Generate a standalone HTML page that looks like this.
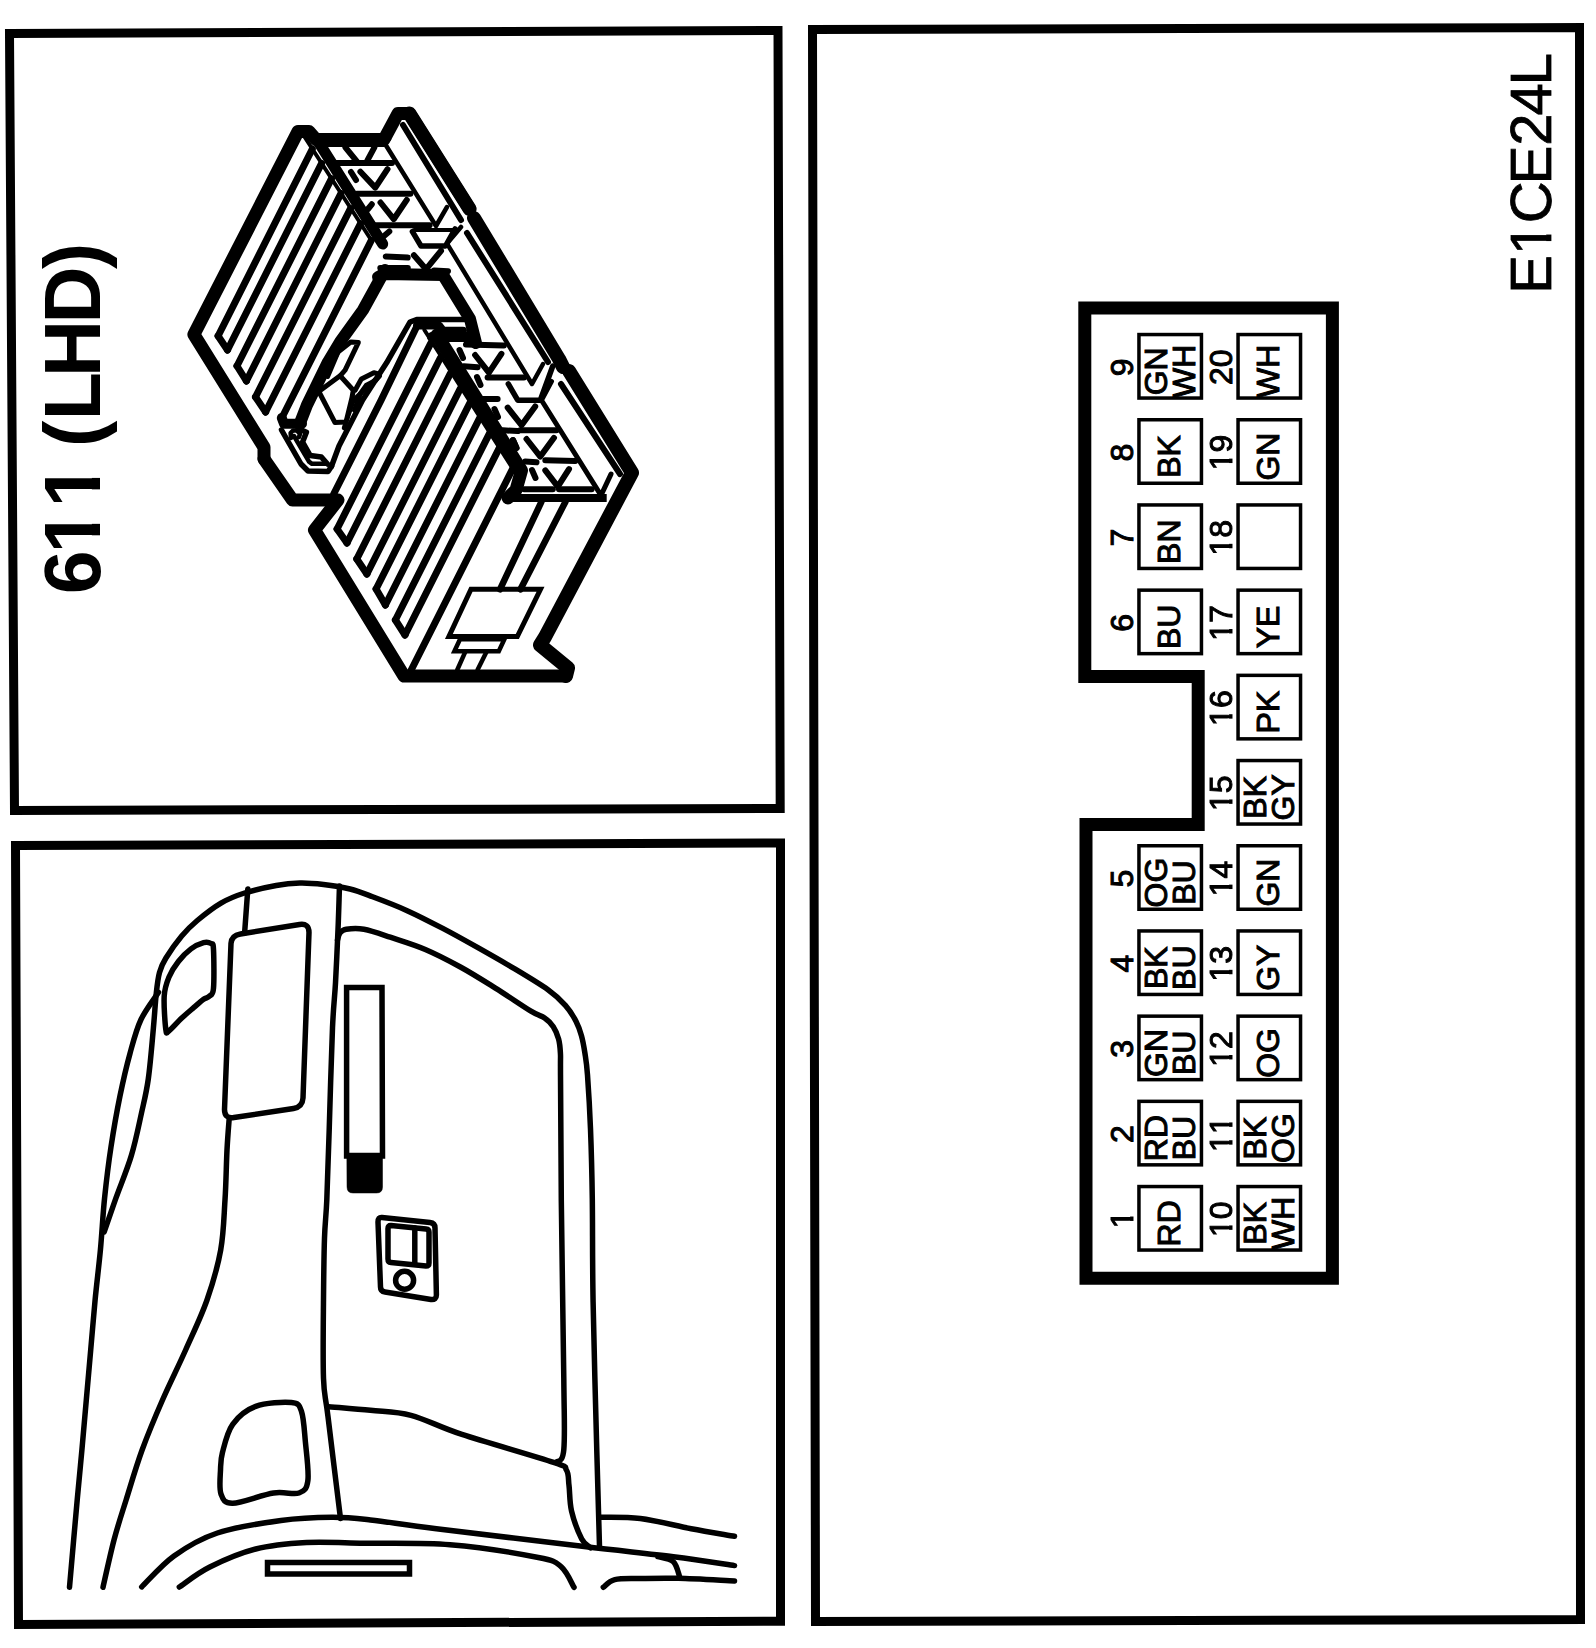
<!DOCTYPE html>
<html><head><meta charset="utf-8"><style>
html,body{margin:0;padding:0;background:#fff;}
body{width:1596px;height:1648px;overflow:hidden;}
svg{display:block;}
text{font-family:"Liberation Sans", sans-serif;fill:#000;}
</style></head><body>
<svg width="1596" height="1648" viewBox="0 0 1596 1648">
<rect width="1596" height="1648" fill="#fff"/>
<polygon points="9.5,33.5 778.0,30.5 780.2,808.5 14.5,810.5" fill="none" stroke="#000" stroke-width="9" stroke-linejoin="miter"/>
<polygon points="15.5,845.5 780.5,843.0 780.5,1621.2 18.5,1624.5" fill="none" stroke="#000" stroke-width="9" stroke-linejoin="miter"/>
<polygon points="812.5,29.5 1579.5,27.5 1580.5,1619.5 815.5,1621.5" fill="none" stroke="#000" stroke-width="9" stroke-linejoin="miter"/>
<path d="M1084.8,308 L1332.4,308 L1332.4,1278.2 L1086,1278.2 L1086,824.6 L1198.2,824.6 L1198.2,676.6 L1084.8,676.6 Z" fill="none" stroke="#000" stroke-width="13" stroke-linejoin="miter"/>
<rect x="1138.95" y="1186.55" width="62.50" height="63.50" fill="none" stroke="#000" stroke-width="3.5"/>
<mask id="m1" maskUnits="userSpaceOnUse" x="-2000" y="-2000" width="4000" height="4000"><rect x="-2000" y="-2000" width="4000" height="4000" fill="#fff"/><rect x="-8.46" y="-4.39" width="6.81" height="8.39" fill="#000"/><rect x="2.78" y="-4.39" width="6.56" height="8.39" fill="#000"/></mask>
<g transform="translate(1133.00,1219.30) rotate(-90)"><text x="-8.90" y="0" font-size="32" font-weight="normal" stroke="#000" stroke-width="1" mask="url(#m1)" >1</text></g>
<g transform="translate(1179.70,1223.30) rotate(-90)"><text x="-23.11 0.00" y="0" font-size="32" font-weight="normal" stroke="#000" stroke-width="1" >RD</text></g>
<rect x="1138.95" y="1101.35" width="62.50" height="63.50" fill="none" stroke="#000" stroke-width="3.5"/>
<g transform="translate(1133.00,1134.10) rotate(-90)"><text x="-8.90" y="0" font-size="32" font-weight="normal" stroke="#000" stroke-width="1" >2</text></g>
<g transform="translate(1167.20,1138.10) rotate(-90)"><text x="-23.11 0.00" y="0" font-size="32" font-weight="normal" stroke="#000" stroke-width="1" >RD</text></g>
<g transform="translate(1194.50,1138.10) rotate(-90)"><text x="-22.23 -0.88" y="0" font-size="32" font-weight="normal" stroke="#000" stroke-width="1" >BU</text></g>
<rect x="1138.95" y="1016.15" width="62.50" height="63.50" fill="none" stroke="#000" stroke-width="3.5"/>
<g transform="translate(1133.00,1048.90) rotate(-90)"><text x="-8.90" y="0" font-size="32" font-weight="normal" stroke="#000" stroke-width="1" >3</text></g>
<g transform="translate(1167.20,1052.90) rotate(-90)"><text x="-24.00 0.89" y="0" font-size="32" font-weight="normal" stroke="#000" stroke-width="1" >GN</text></g>
<g transform="translate(1194.50,1052.90) rotate(-90)"><text x="-22.23 -0.88" y="0" font-size="32" font-weight="normal" stroke="#000" stroke-width="1" >BU</text></g>
<rect x="1138.95" y="930.95" width="62.50" height="63.50" fill="none" stroke="#000" stroke-width="3.5"/>
<g transform="translate(1133.00,963.70) rotate(-90)"><text x="-8.90" y="0" font-size="32" font-weight="normal" stroke="#000" stroke-width="1" >4</text></g>
<g transform="translate(1167.20,967.70) rotate(-90)"><text x="-21.34 0.00" y="0" font-size="32" font-weight="normal" stroke="#000" stroke-width="1" >BK</text></g>
<g transform="translate(1194.50,967.70) rotate(-90)"><text x="-22.23 -0.88" y="0" font-size="32" font-weight="normal" stroke="#000" stroke-width="1" >BU</text></g>
<rect x="1138.95" y="845.75" width="62.50" height="63.50" fill="none" stroke="#000" stroke-width="3.5"/>
<g transform="translate(1133.00,878.50) rotate(-90)"><text x="-8.90" y="0" font-size="32" font-weight="normal" stroke="#000" stroke-width="1" >5</text></g>
<g transform="translate(1167.20,882.50) rotate(-90)"><text x="-24.89 0.00" y="0" font-size="32" font-weight="normal" stroke="#000" stroke-width="1" >OG</text></g>
<g transform="translate(1194.50,882.50) rotate(-90)"><text x="-22.23 -0.88" y="0" font-size="32" font-weight="normal" stroke="#000" stroke-width="1" >BU</text></g>
<rect x="1138.95" y="590.15" width="62.50" height="63.50" fill="none" stroke="#000" stroke-width="3.5"/>
<g transform="translate(1133.00,622.90) rotate(-90)"><text x="-8.90" y="0" font-size="32" font-weight="normal" stroke="#000" stroke-width="1" >6</text></g>
<g transform="translate(1179.70,626.90) rotate(-90)"><text x="-22.23 -0.88" y="0" font-size="32" font-weight="normal" stroke="#000" stroke-width="1" >BU</text></g>
<rect x="1138.95" y="504.95" width="62.50" height="63.50" fill="none" stroke="#000" stroke-width="3.5"/>
<g transform="translate(1133.00,537.70) rotate(-90)"><text x="-8.90" y="0" font-size="32" font-weight="normal" stroke="#000" stroke-width="1" >7</text></g>
<g transform="translate(1179.70,541.70) rotate(-90)"><text x="-22.23 -0.88" y="0" font-size="32" font-weight="normal" stroke="#000" stroke-width="1" >BN</text></g>
<rect x="1138.95" y="419.75" width="62.50" height="63.50" fill="none" stroke="#000" stroke-width="3.5"/>
<g transform="translate(1133.00,452.50) rotate(-90)"><text x="-8.90" y="0" font-size="32" font-weight="normal" stroke="#000" stroke-width="1" >8</text></g>
<g transform="translate(1179.70,456.50) rotate(-90)"><text x="-21.34 0.00" y="0" font-size="32" font-weight="normal" stroke="#000" stroke-width="1" >BK</text></g>
<rect x="1138.95" y="334.55" width="62.50" height="63.50" fill="none" stroke="#000" stroke-width="3.5"/>
<g transform="translate(1133.00,367.30) rotate(-90)"><text x="-8.90" y="0" font-size="32" font-weight="normal" stroke="#000" stroke-width="1" >9</text></g>
<g transform="translate(1167.20,371.30) rotate(-90)"><text x="-24.00 0.89" y="0" font-size="32" font-weight="normal" stroke="#000" stroke-width="1" >GN</text></g>
<g transform="translate(1194.50,371.30) rotate(-90)"><text x="-26.66 3.55" y="0" font-size="32" font-weight="normal" stroke="#000" stroke-width="1" >WH</text></g>
<rect x="1238.05" y="1186.55" width="62.50" height="63.50" fill="none" stroke="#000" stroke-width="3.5"/>
<mask id="m2" maskUnits="userSpaceOnUse" x="-2000" y="-2000" width="4000" height="4000"><rect x="-2000" y="-2000" width="4000" height="4000" fill="#fff"/><rect x="-17.36" y="-4.39" width="6.81" height="8.39" fill="#000"/><rect x="-6.12" y="-4.39" width="6.56" height="8.39" fill="#000"/></mask>
<g transform="translate(1232.00,1219.30) rotate(-90)"><text x="-17.80 0.00" y="0" font-size="32" font-weight="normal" stroke="#000" stroke-width="1" mask="url(#m2)" >10</text></g>
<g transform="translate(1266.30,1223.30) rotate(-90)"><text x="-21.34 0.00" y="0" font-size="32" font-weight="normal" stroke="#000" stroke-width="1" >BK</text></g>
<g transform="translate(1293.60,1223.30) rotate(-90)"><text x="-26.66 3.55" y="0" font-size="32" font-weight="normal" stroke="#000" stroke-width="1" >WH</text></g>
<rect x="1238.05" y="1101.35" width="62.50" height="63.50" fill="none" stroke="#000" stroke-width="3.5"/>
<mask id="m3" maskUnits="userSpaceOnUse" x="-2000" y="-2000" width="4000" height="4000"><rect x="-2000" y="-2000" width="4000" height="4000" fill="#fff"/><rect x="-17.36" y="-4.39" width="6.81" height="8.39" fill="#000"/><rect x="-6.12" y="-4.39" width="6.56" height="8.39" fill="#000"/><rect x="0.44" y="-4.39" width="6.81" height="8.39" fill="#000"/><rect x="11.68" y="-4.39" width="6.56" height="8.39" fill="#000"/></mask>
<g transform="translate(1232.00,1134.10) rotate(-90)"><text x="-17.80 0.00" y="0" font-size="32" font-weight="normal" stroke="#000" stroke-width="1" mask="url(#m3)" >11</text></g>
<g transform="translate(1266.30,1138.10) rotate(-90)"><text x="-21.34 0.00" y="0" font-size="32" font-weight="normal" stroke="#000" stroke-width="1" >BK</text></g>
<g transform="translate(1293.60,1138.10) rotate(-90)"><text x="-24.89 0.00" y="0" font-size="32" font-weight="normal" stroke="#000" stroke-width="1" >OG</text></g>
<rect x="1238.05" y="1016.15" width="62.50" height="63.50" fill="none" stroke="#000" stroke-width="3.5"/>
<mask id="m4" maskUnits="userSpaceOnUse" x="-2000" y="-2000" width="4000" height="4000"><rect x="-2000" y="-2000" width="4000" height="4000" fill="#fff"/><rect x="-17.36" y="-4.39" width="6.81" height="8.39" fill="#000"/><rect x="-6.12" y="-4.39" width="6.56" height="8.39" fill="#000"/></mask>
<g transform="translate(1232.00,1048.90) rotate(-90)"><text x="-17.80 0.00" y="0" font-size="32" font-weight="normal" stroke="#000" stroke-width="1" mask="url(#m4)" >12</text></g>
<g transform="translate(1278.80,1052.90) rotate(-90)"><text x="-24.89 0.00" y="0" font-size="32" font-weight="normal" stroke="#000" stroke-width="1" >OG</text></g>
<rect x="1238.05" y="930.95" width="62.50" height="63.50" fill="none" stroke="#000" stroke-width="3.5"/>
<mask id="m5" maskUnits="userSpaceOnUse" x="-2000" y="-2000" width="4000" height="4000"><rect x="-2000" y="-2000" width="4000" height="4000" fill="#fff"/><rect x="-17.36" y="-4.39" width="6.81" height="8.39" fill="#000"/><rect x="-6.12" y="-4.39" width="6.56" height="8.39" fill="#000"/></mask>
<g transform="translate(1232.00,963.70) rotate(-90)"><text x="-17.80 0.00" y="0" font-size="32" font-weight="normal" stroke="#000" stroke-width="1" mask="url(#m5)" >13</text></g>
<g transform="translate(1278.80,967.70) rotate(-90)"><text x="-23.12 1.77" y="0" font-size="32" font-weight="normal" stroke="#000" stroke-width="1" >GY</text></g>
<rect x="1238.05" y="845.75" width="62.50" height="63.50" fill="none" stroke="#000" stroke-width="3.5"/>
<mask id="m6" maskUnits="userSpaceOnUse" x="-2000" y="-2000" width="4000" height="4000"><rect x="-2000" y="-2000" width="4000" height="4000" fill="#fff"/><rect x="-17.36" y="-4.39" width="6.81" height="8.39" fill="#000"/><rect x="-6.12" y="-4.39" width="6.56" height="8.39" fill="#000"/></mask>
<g transform="translate(1232.00,878.50) rotate(-90)"><text x="-17.80 0.00" y="0" font-size="32" font-weight="normal" stroke="#000" stroke-width="1" mask="url(#m6)" >14</text></g>
<g transform="translate(1278.80,882.50) rotate(-90)"><text x="-24.00 0.89" y="0" font-size="32" font-weight="normal" stroke="#000" stroke-width="1" >GN</text></g>
<rect x="1238.05" y="760.55" width="62.50" height="63.50" fill="none" stroke="#000" stroke-width="3.5"/>
<mask id="m7" maskUnits="userSpaceOnUse" x="-2000" y="-2000" width="4000" height="4000"><rect x="-2000" y="-2000" width="4000" height="4000" fill="#fff"/><rect x="-17.36" y="-4.39" width="6.81" height="8.39" fill="#000"/><rect x="-6.12" y="-4.39" width="6.56" height="8.39" fill="#000"/></mask>
<g transform="translate(1232.00,793.30) rotate(-90)"><text x="-17.80 0.00" y="0" font-size="32" font-weight="normal" stroke="#000" stroke-width="1" mask="url(#m7)" >15</text></g>
<g transform="translate(1266.30,797.30) rotate(-90)"><text x="-21.34 0.00" y="0" font-size="32" font-weight="normal" stroke="#000" stroke-width="1" >BK</text></g>
<g transform="translate(1293.60,797.30) rotate(-90)"><text x="-23.12 1.77" y="0" font-size="32" font-weight="normal" stroke="#000" stroke-width="1" >GY</text></g>
<rect x="1238.05" y="675.35" width="62.50" height="63.50" fill="none" stroke="#000" stroke-width="3.5"/>
<mask id="m8" maskUnits="userSpaceOnUse" x="-2000" y="-2000" width="4000" height="4000"><rect x="-2000" y="-2000" width="4000" height="4000" fill="#fff"/><rect x="-17.36" y="-4.39" width="6.81" height="8.39" fill="#000"/><rect x="-6.12" y="-4.39" width="6.56" height="8.39" fill="#000"/></mask>
<g transform="translate(1232.00,708.10) rotate(-90)"><text x="-17.80 0.00" y="0" font-size="32" font-weight="normal" stroke="#000" stroke-width="1" mask="url(#m8)" >16</text></g>
<g transform="translate(1278.80,712.10) rotate(-90)"><text x="-21.34 0.00" y="0" font-size="32" font-weight="normal" stroke="#000" stroke-width="1" >PK</text></g>
<rect x="1238.05" y="590.15" width="62.50" height="63.50" fill="none" stroke="#000" stroke-width="3.5"/>
<mask id="m9" maskUnits="userSpaceOnUse" x="-2000" y="-2000" width="4000" height="4000"><rect x="-2000" y="-2000" width="4000" height="4000" fill="#fff"/><rect x="-17.36" y="-4.39" width="6.81" height="8.39" fill="#000"/><rect x="-6.12" y="-4.39" width="6.56" height="8.39" fill="#000"/></mask>
<g transform="translate(1232.00,622.90) rotate(-90)"><text x="-17.80 0.00" y="0" font-size="32" font-weight="normal" stroke="#000" stroke-width="1" mask="url(#m9)" >17</text></g>
<g transform="translate(1278.80,626.90) rotate(-90)"><text x="-21.34 0.00" y="0" font-size="32" font-weight="normal" stroke="#000" stroke-width="1" >YE</text></g>
<rect x="1238.05" y="504.95" width="62.50" height="63.50" fill="none" stroke="#000" stroke-width="3.5"/>
<mask id="m10" maskUnits="userSpaceOnUse" x="-2000" y="-2000" width="4000" height="4000"><rect x="-2000" y="-2000" width="4000" height="4000" fill="#fff"/><rect x="-17.36" y="-4.39" width="6.81" height="8.39" fill="#000"/><rect x="-6.12" y="-4.39" width="6.56" height="8.39" fill="#000"/></mask>
<g transform="translate(1232.00,537.70) rotate(-90)"><text x="-17.80 0.00" y="0" font-size="32" font-weight="normal" stroke="#000" stroke-width="1" mask="url(#m10)" >18</text></g>
<rect x="1238.05" y="419.75" width="62.50" height="63.50" fill="none" stroke="#000" stroke-width="3.5"/>
<mask id="m11" maskUnits="userSpaceOnUse" x="-2000" y="-2000" width="4000" height="4000"><rect x="-2000" y="-2000" width="4000" height="4000" fill="#fff"/><rect x="-17.36" y="-4.39" width="6.81" height="8.39" fill="#000"/><rect x="-6.12" y="-4.39" width="6.56" height="8.39" fill="#000"/></mask>
<g transform="translate(1232.00,452.50) rotate(-90)"><text x="-17.80 0.00" y="0" font-size="32" font-weight="normal" stroke="#000" stroke-width="1" mask="url(#m11)" >19</text></g>
<g transform="translate(1278.80,456.50) rotate(-90)"><text x="-24.00 0.89" y="0" font-size="32" font-weight="normal" stroke="#000" stroke-width="1" >GN</text></g>
<rect x="1238.05" y="334.55" width="62.50" height="63.50" fill="none" stroke="#000" stroke-width="3.5"/>
<g transform="translate(1232.00,367.30) rotate(-90)"><text x="-17.80 0.00" y="0" font-size="32" font-weight="normal" stroke="#000" stroke-width="1" >20</text></g>
<g transform="translate(1278.80,371.30) rotate(-90)"><text x="-26.66 3.55" y="0" font-size="32" font-weight="normal" stroke="#000" stroke-width="1" >WH</text></g>
<mask id="m12" maskUnits="userSpaceOnUse" x="-2000" y="-2000" width="4000" height="4000"><rect x="-2000" y="-2000" width="4000" height="4000" fill="#fff"/><rect x="-81.44" y="-6.23" width="11.37" height="10.13" fill="#000"/><rect x="-63.55" y="-6.23" width="10.91" height="10.13" fill="#000"/></mask>
<g transform="translate(1551.00,171.00) rotate(-90)"><text x="-122.64 -83.96 -52.20 -13.31 25.37 55.63 85.89" y="0" font-size="58" font-weight="normal" stroke="#000" stroke-width="0.8" mask="url(#m12)" >E1CE24L</text></g>
<mask id="m13" maskUnits="userSpaceOnUse" x="-2000" y="-2000" width="4000" height="4000"><rect x="-2000" y="-2000" width="4000" height="4000" fill="#fff"/><rect x="-128.95" y="-9.56" width="14.66" height="13.06" fill="#000"/><rect x="-102.85" y="-9.56" width="13.66" height="13.06" fill="#000"/><rect x="-83.02" y="-9.56" width="14.66" height="13.06" fill="#000"/><rect x="-56.92" y="-9.56" width="13.66" height="13.06" fill="#000"/></mask>
<g transform="translate(100.40,421.00) rotate(-90)"><text x="-173.37 -132.43 -86.49 -52.56 -26.11 0.70 43.96 97.51 152.06" y="0" font-size="79" font-weight="bold" mask="url(#m13)" >611 (LHD)</text></g>
<path d="M104.2,1231.8 C106.2,1226.2 111.5,1210.6 116.0,1197.9 C120.5,1185.2 127.2,1169.6 131.4,1155.4 C135.7,1141.2 138.7,1125.7 141.5,1113.0 C144.3,1100.3 146.3,1093.2 148.3,1079.0 C150.3,1064.8 152.1,1042.3 153.4,1028.0 C154.7,1013.7 155.3,1002.2 156.3,993.0 C157.3,983.8 157.9,978.3 159.5,972.5 C161.1,966.7 162.1,964.3 165.8,958.3 C169.5,952.2 176.2,942.5 181.5,936.2 C186.8,929.9 190.7,926.0 197.3,920.5 C203.9,915.0 213.1,907.7 221.0,903.1 C228.9,898.5 235.4,895.9 244.6,893.0 C253.8,890.1 267.0,887.2 276.2,885.5 C285.4,883.8 291.9,883.2 299.8,883.0 C307.7,882.8 315.1,883.5 323.5,884.5 C331.9,885.5 341.8,887.0 350.0,889.0 C358.2,891.0 363.0,893.1 372.6,896.8 C382.2,900.4 396.0,905.6 407.7,910.9 C419.4,916.2 431.1,922.3 442.8,928.4 C454.5,934.5 466.2,941.1 477.9,947.7 C489.6,954.3 501.3,960.9 513.0,967.9 C524.7,974.9 539.2,983.5 548.0,989.8 C556.8,996.1 560.9,1000.3 565.6,1005.6 C570.3,1010.9 573.5,1016.4 576.1,1021.4 C578.7,1026.4 579.9,1030.1 581.4,1035.4 C582.9,1040.7 583.9,1046.4 584.9,1053.0 C585.9,1059.6 586.6,1062.4 587.5,1075.0 C588.4,1087.6 589.7,1108.1 590.5,1128.8 C591.3,1149.5 591.9,1170.1 592.3,1199.0 C592.7,1227.9 592.3,1259.4 593.1,1302.0 C593.9,1344.6 595.8,1414.0 596.9,1454.8 C598.0,1495.5 599.1,1531.2 599.5,1546.5" fill="none" stroke="#000" stroke-width="5.5" stroke-linejoin="round" stroke-linecap="round"/>
<path d="M158.5,992.3 C155.6,996.8 145.8,1009.3 141.0,1019.5 C136.2,1029.7 133.5,1040.7 130.0,1053.4 C126.5,1066.1 123.2,1080.3 120.0,1095.9 C116.8,1111.5 113.6,1129.9 111.0,1146.9 C108.4,1163.9 106.4,1180.7 104.6,1197.9 C102.8,1215.1 102.0,1233.0 100.4,1250.0 C98.8,1267.0 96.7,1283.3 95.1,1300.0 C93.5,1316.7 92.2,1333.3 90.7,1350.0 C89.2,1366.7 87.8,1383.3 86.3,1400.0 C84.8,1416.7 83.4,1433.3 81.9,1450.0 C80.4,1466.7 79.3,1477.1 77.2,1500.0 C75.1,1522.9 70.8,1572.8 69.5,1587.3" fill="none" stroke="#000" stroke-width="5.5" stroke-linejoin="round" stroke-linecap="round"/>
<path d="M247.8,889.0 C247.3,896.4 245.1,925.8 244.6,933.1" fill="none" stroke="#000" stroke-width="5.5" stroke-linejoin="round" stroke-linecap="round"/>
<path d="M229.2,1118.5 C228.8,1123.8 227.7,1136.4 227.0,1150.0 C226.3,1163.6 226.1,1183.3 225.0,1200.0 C223.9,1216.7 223.7,1233.3 220.7,1250.0 C217.7,1266.7 212.8,1283.3 207.0,1300.0 C201.2,1316.7 193.0,1333.3 185.6,1350.0 C178.2,1366.7 169.8,1383.3 162.5,1400.0 C155.2,1416.7 148.2,1433.3 142.1,1450.0 C136.0,1466.7 130.8,1485.0 126.1,1500.0 C121.4,1515.0 117.8,1525.5 114.0,1540.0 C110.2,1554.5 104.8,1579.4 103.0,1587.3" fill="none" stroke="#000" stroke-width="5.5" stroke-linejoin="round" stroke-linecap="round"/>
<path d="M339.5,886.0 C339.2,893.3 338.7,913.8 338.0,929.9 C337.3,946.0 336.4,966.5 335.5,982.8 C334.6,999.1 333.6,1003.2 332.5,1027.7 C331.4,1052.2 330.1,1101.3 329.2,1130.0 C328.2,1158.7 327.6,1182.0 326.8,1200.0 C326.0,1218.0 325.1,1221.3 324.5,1238.0 C323.9,1254.7 323.7,1276.6 323.5,1300.0 C323.3,1323.4 322.8,1359.0 323.5,1378.4 C324.2,1397.8 325.2,1393.2 328.0,1416.6 C330.8,1440.0 338.4,1501.6 340.5,1518.6" fill="none" stroke="#000" stroke-width="5.5" stroke-linejoin="round" stroke-linecap="round"/>
<path d="M240.5,934 L299.5,924.5 Q309,923 309,932.5 L303,1098 Q302.5,1107 293.5,1108.5 L234,1117.5 Q224.5,1119 224.5,1109.5 L231,943.5 Q231.5,935.5 240.5,934 Z" fill="none" stroke="#000" stroke-width="5.5" stroke-linejoin="round" stroke-linecap="round"/>
<path d="M165.8,1029.3 C165.0,1023.5 163.7,1004.9 164.2,996.2 C164.7,987.5 166.5,983.1 168.9,977.3 C171.3,971.5 174.7,966.2 178.4,961.5 C182.1,956.8 186.8,952.0 191.0,948.9 C195.2,945.8 200.3,943.5 203.6,942.6 C206.9,941.7 209.3,942.4 211.0,943.5 C212.7,944.6 213.1,942.0 213.5,949.5 C213.9,957.0 214.2,980.5 213.5,988.3 C212.8,996.1 211.1,994.4 209.4,996.2 C207.8,998.0 206.1,997.5 203.6,999.3 C201.1,1001.1 197.9,1004.0 194.2,1007.2 C190.5,1010.4 185.7,1014.3 181.5,1018.3 C177.3,1022.2 171.5,1029.1 168.9,1030.9 C166.3,1032.7 166.6,1035.1 165.8,1029.3Z" fill="none" stroke="#000" stroke-width="5.5" stroke-linejoin="round" stroke-linecap="round"/>
<path d="M337.5,940.0 C337.9,938.8 338.5,934.8 340.0,933.0 C341.5,931.2 342.3,929.9 346.3,929.3 C350.3,928.7 356.6,928.0 363.9,929.3 C371.2,930.6 380.0,933.8 390.2,937.2 C400.4,940.6 413.6,944.5 425.3,949.5 C437.0,954.5 448.7,960.6 460.4,967.0 C472.1,973.4 483.7,980.8 495.4,988.1 C507.1,995.4 522.3,1005.9 530.5,1010.9 C538.7,1015.9 540.8,1015.3 544.6,1017.9 C548.4,1020.5 551.0,1023.2 553.3,1026.7 C555.6,1030.2 557.4,1034.6 558.6,1039.0 C559.8,1043.4 560.1,1047.0 560.4,1053.0 C560.7,1059.0 560.4,1050.5 560.5,1075.0 C560.6,1099.5 560.8,1149.5 561.3,1200.0 C561.8,1250.5 563.4,1336.7 563.8,1378.3 C564.2,1419.9 565.1,1435.7 563.8,1449.7 C562.5,1463.7 557.5,1460.3 556.2,1462.4" fill="none" stroke="#000" stroke-width="5.5" stroke-linejoin="round" stroke-linecap="round"/>
<path d="M327.0,1406.4 C334.2,1407.1 356.4,1408.8 370.4,1410.3 C384.4,1411.8 395.8,1411.3 411.0,1415.3 C426.2,1419.3 438.1,1426.6 461.9,1434.4 C485.7,1442.2 536.2,1456.5 553.6,1462.4 C571.0,1468.3 563.8,1466.2 566.4,1470.0 C569.0,1473.8 568.1,1478.6 569.0,1485.4 C569.9,1492.2 569.4,1501.9 571.5,1510.8 C573.6,1519.7 578.5,1532.7 581.7,1538.9 C584.9,1545.1 589.1,1546.3 590.6,1547.8" fill="none" stroke="#000" stroke-width="5.5" stroke-linejoin="round" stroke-linecap="round"/>
<path d="M346.6,987.4 L382,987.4 L382.5,1156 L346.6,1156 Z" fill="none" stroke="#000" stroke-width="5.5" stroke-linejoin="miter" stroke-linecap="round"/>
<path d="M347,1153 L382.5,1153 L382.5,1187 Q382.5,1193 376.5,1193 L353,1193 Q347,1193 347,1187 Z" fill="#000" stroke="#000" stroke-width="0.5" stroke-linejoin="round" stroke-linecap="round"/>
<path d="M382,1217.5 L430,1222.5 Q435,1223 435,1228 L436.4,1295 Q436.4,1300 431,1299.5 L385,1292 Q380.5,1291.5 380.5,1287 L378,1222 Q378,1217 382,1217.5 Z" fill="none" stroke="#000" stroke-width="5.5" stroke-linejoin="round" stroke-linecap="round"/>
<path d="M391,1225.5 L426,1229 Q429,1229.3 429,1232 L429,1263 Q429,1266 426,1266 L391,1262.5 Q388,1262.2 388,1259 L388,1228.5 Q388,1225.3 391,1225.5 Z" fill="none" stroke="#000" stroke-width="5.5" stroke-linejoin="round" stroke-linecap="round"/>
<line x1="414.8" y1="1228.0" x2="414.8" y2="1264.0" stroke="#000" stroke-width="5.5" stroke-linecap="round"/>
<circle cx="404.6" cy="1280.3" r="9" fill="none" stroke="#000" stroke-width="5.5"/>
<path d="M220.5,1470.0 C220.8,1463.0 220.5,1459.9 222.5,1452.3 C224.5,1444.7 227.2,1431.9 232.7,1424.3 C238.2,1416.7 245.9,1410.0 255.7,1406.4 C265.5,1402.8 283.8,1401.8 291.4,1402.6 C299.0,1403.4 299.2,1404.9 301.5,1411.5 C303.8,1418.1 304.3,1430.6 305.4,1442.1 C306.5,1453.6 309.0,1471.9 307.9,1480.4 C306.8,1488.9 304.7,1490.9 299.0,1493.0 C293.3,1495.1 284.6,1491.3 273.5,1493.0 C262.4,1494.7 241.4,1503.1 232.7,1503.3 C223.9,1503.5 223.0,1499.5 221.0,1494.0 C219.0,1488.5 220.2,1477.0 220.5,1470.0Z" fill="none" stroke="#000" stroke-width="5.5" stroke-linejoin="round" stroke-linecap="round"/>
<path d="M141.7,1586.9 C147.1,1581.8 161.4,1565.0 174.0,1556.0 C186.6,1547.0 199.6,1538.9 217.4,1533.0 C235.2,1527.1 261.9,1523.1 281.0,1520.5 C300.1,1517.9 317.1,1517.4 332.0,1517.3 C346.9,1517.2 353.0,1518.0 370.4,1519.9 C387.8,1521.8 400.8,1524.3 436.4,1528.7 C472.0,1533.1 544.7,1541.8 584.2,1546.5 C623.7,1551.2 648.4,1553.5 673.4,1556.7 C698.4,1559.9 724.3,1564.1 734.5,1565.6" fill="none" stroke="#000" stroke-width="5.5" stroke-linejoin="round" stroke-linecap="round"/>
<path d="M599.5,1517.2 C606.3,1517.4 625.0,1516.6 640.3,1518.5 C655.6,1520.4 675.5,1525.7 691.2,1528.7 C706.9,1531.7 727.3,1535.0 734.5,1536.3" fill="none" stroke="#000" stroke-width="5.5" stroke-linejoin="round" stroke-linecap="round"/>
<path d="M179.3,1587.0 C184.4,1583.7 197.1,1573.3 209.8,1567.0 C222.5,1560.7 239.6,1553.1 255.7,1549.0 C271.8,1544.9 289.2,1543.5 306.6,1542.5 C324.0,1541.5 336.1,1542.8 360.0,1543.2 C383.9,1543.6 420.3,1542.3 450.0,1544.7 C479.7,1547.1 519.8,1553.8 538.3,1557.5 C556.8,1561.2 555.3,1561.9 561.3,1566.9 C567.2,1571.9 571.9,1583.9 574.0,1587.3" fill="none" stroke="#000" stroke-width="5.5" stroke-linejoin="round" stroke-linecap="round"/>
<path d="M603.3,1587.3 C605.2,1586.0 608.7,1581.1 614.8,1579.6 C620.9,1578.1 629.4,1578.7 640.0,1578.5 C650.6,1578.3 662.8,1577.9 678.5,1578.3 C694.2,1578.7 725.2,1580.5 734.5,1580.9" fill="none" stroke="#000" stroke-width="5.5" stroke-linejoin="round" stroke-linecap="round"/>
<path d="M658.0,1556.7 C660.6,1557.5 669.8,1558.4 673.4,1561.8 C677.0,1565.2 678.7,1574.5 679.7,1577.0" fill="none" stroke="#000" stroke-width="5.5" stroke-linejoin="round" stroke-linecap="round"/>
<path d="M267.5,1562.5 L409.5,1562.5 L409.5,1574 L267.5,1574 Z" fill="none" stroke="#000" stroke-width="5.5" stroke-linejoin="miter" stroke-linecap="round"/>
<polyline points="264.0,459.0 264.0,447.2 193.9,334.5 298.0,131.5 309.0,131.5 316.0,139.5 384.0,139.5 398.0,113.5 409.4,113.5 469.6,209.0" fill="none" stroke="#000" stroke-width="13" stroke-linejoin="round" stroke-linecap="round"/>
<line x1="409.4" y1="113.5" x2="469.6" y2="209.0" stroke="#000" stroke-width="14" stroke-linecap="round"/>
<polyline points="264.0,459.0 292.5,500.0 336.0,500.0" fill="none" stroke="#000" stroke-width="13" stroke-linejoin="round" stroke-linecap="round"/>
<line x1="304.0" y1="136.0" x2="371.2" y2="240.0" stroke="#000" stroke-width="4" stroke-linecap="round"/>
<line x1="317.2" y1="140.0" x2="382.7" y2="244.0" stroke="#000" stroke-width="11" stroke-linecap="round"/>
<line x1="312.3" y1="149.0" x2="218.1" y2="336.0" stroke="#000" stroke-width="7" stroke-linecap="round"/>
<line x1="321.6" y1="163.3" x2="227.5" y2="350.0" stroke="#000" stroke-width="7" stroke-linecap="round"/>
<line x1="331.5" y1="178.7" x2="237.0" y2="366.0" stroke="#000" stroke-width="7" stroke-linecap="round"/>
<line x1="341.0" y1="193.3" x2="246.4" y2="381.0" stroke="#000" stroke-width="7" stroke-linecap="round"/>
<line x1="350.6" y1="208.3" x2="255.5" y2="397.0" stroke="#000" stroke-width="7" stroke-linecap="round"/>
<line x1="360.5" y1="223.6" x2="265.6" y2="412.0" stroke="#000" stroke-width="7" stroke-linecap="round"/>
<line x1="371.3" y1="240.4" x2="281.3" y2="419.0" stroke="#000" stroke-width="7" stroke-linecap="round"/>
<line x1="218.1" y1="336.0" x2="227.5" y2="350.0" stroke="#000" stroke-width="7" stroke-linecap="round"/>
<line x1="237.0" y1="366.0" x2="246.4" y2="381.0" stroke="#000" stroke-width="7" stroke-linecap="round"/>
<line x1="255.5" y1="397.0" x2="265.6" y2="412.0" stroke="#000" stroke-width="7" stroke-linecap="round"/>
<polyline points="281.8,418.0 284.0,423.7 302.0,423.7" fill="none" stroke="#000" stroke-width="10" stroke-linejoin="round" stroke-linecap="round"/>
<polyline points="385.0,270.0 363.0,310.0 340.0,342.0 328.0,362.0 307.0,405.0 300.0,423.0" fill="none" stroke="#000" stroke-width="12" stroke-linejoin="round" stroke-linecap="round"/>
<polyline points="327.6,376.4 338.0,352.0 350.8,342.0 358.3,342.6 345.1,370.2 340.1,375.8" fill="none" stroke="#000" stroke-width="5" stroke-linejoin="round" stroke-linecap="round"/>
<polyline points="340.1,375.8 353.3,390.2 352.0,397.7 346.0,422.0 335.0,422.6 318.8,391.5 340.1,375.8" fill="none" stroke="#000" stroke-width="5" stroke-linejoin="round" stroke-linecap="round"/>
<polyline points="355.1,390.2 361.4,378.9 373.9,372.7 378.3,373.9 379.6,375.8 375.2,380.8 366.4,385.2 360.2,394.0 354.5,410.0" fill="none" stroke="#000" stroke-width="5" stroke-linejoin="round" stroke-linecap="round"/>
<polyline points="281.5,430.0 301.0,464.0 308.0,471.0 328.2,471.4 331.5,466.2" fill="none" stroke="#000" stroke-width="5.5" stroke-linejoin="round" stroke-linecap="round"/>
<polyline points="291.0,438.0 290.6,433.0 293.0,430.5 297.0,430.5 300.0,434.0 299.0,437.0" fill="none" stroke="#000" stroke-width="4.5" stroke-linejoin="round" stroke-linecap="round"/>
<polyline points="294.0,436.0 309.0,461.7 312.0,463.8 326.0,463.8" fill="none" stroke="#000" stroke-width="4.5" stroke-linejoin="round" stroke-linecap="round"/>
<polyline points="298.1,428.6 306.4,432.3 302.6,442.1 310.2,455.6 321.4,457.1 327.5,464.0" fill="none" stroke="#000" stroke-width="5.5" stroke-linejoin="round" stroke-linecap="round"/>
<polyline points="345.4,147.3 356.8,161.3" fill="none" stroke="#000" stroke-width="6" stroke-linejoin="round" stroke-linecap="round"/>
<polyline points="374.4,147.3 367.4,160.4" fill="none" stroke="#000" stroke-width="6" stroke-linejoin="round" stroke-linecap="round"/>
<polyline points="360.4,171.8 375.3,187.6 387.5,169.2" fill="none" stroke="#000" stroke-width="6" stroke-linejoin="round" stroke-linecap="round"/>
<polyline points="380.5,202.5 393.7,219.2 406.8,199.9" fill="none" stroke="#000" stroke-width="6" stroke-linejoin="round" stroke-linecap="round"/>
<polyline points="413.9,255.2 426.1,269.2 441.0,250.8" fill="none" stroke="#000" stroke-width="6" stroke-linejoin="round" stroke-linecap="round"/>
<polyline points="475.1,355.0 488.9,372.6 501.4,353.8" fill="none" stroke="#000" stroke-width="6" stroke-linejoin="round" stroke-linecap="round"/>
<polyline points="507.7,407.7 521.5,425.2 535.2,406.4" fill="none" stroke="#000" stroke-width="6" stroke-linejoin="round" stroke-linecap="round"/>
<polyline points="526.5,439.0 540.3,456.6 554.0,437.8" fill="none" stroke="#000" stroke-width="6" stroke-linejoin="round" stroke-linecap="round"/>
<polyline points="545.3,470.4 557.8,486.6 569.0,469.1" fill="none" stroke="#000" stroke-width="6" stroke-linejoin="round" stroke-linecap="round"/>
<line x1="336.0" y1="163.0" x2="392.0" y2="163.0" stroke="#000" stroke-width="6" stroke-linecap="round"/>
<line x1="356.8" y1="193.7" x2="410.4" y2="193.7" stroke="#000" stroke-width="6" stroke-linecap="round"/>
<line x1="376.0" y1="225.3" x2="429.6" y2="225.3" stroke="#000" stroke-width="6" stroke-linecap="round"/>
<line x1="385.8" y1="256.5" x2="407.7" y2="257.5" stroke="#000" stroke-width="6" stroke-linecap="round"/>
<line x1="380.3" y1="268.0" x2="407.8" y2="268.0" stroke="#000" stroke-width="6" stroke-linecap="round"/>
<line x1="434.1" y1="270.4" x2="448.0" y2="271.2" stroke="#000" stroke-width="6" stroke-linecap="round"/>
<line x1="466.0" y1="344.5" x2="503.9" y2="345.5" stroke="#000" stroke-width="6" stroke-linecap="round"/>
<line x1="463.8" y1="366.3" x2="477.6" y2="367.3" stroke="#000" stroke-width="6" stroke-linecap="round"/>
<line x1="487.6" y1="377.6" x2="524.0" y2="377.6" stroke="#000" stroke-width="6" stroke-linecap="round"/>
<line x1="481.4" y1="398.9" x2="497.6" y2="398.9" stroke="#000" stroke-width="6" stroke-linecap="round"/>
<line x1="502.7" y1="430.3" x2="517.7" y2="431.0" stroke="#000" stroke-width="6" stroke-linecap="round"/>
<line x1="520.2" y1="430.3" x2="556.5" y2="430.3" stroke="#000" stroke-width="6" stroke-linecap="round"/>
<line x1="525.2" y1="461.6" x2="536.5" y2="462.3" stroke="#000" stroke-width="6" stroke-linecap="round"/>
<line x1="545.3" y1="460.3" x2="575.3" y2="461.0" stroke="#000" stroke-width="6" stroke-linecap="round"/>
<line x1="524.0" y1="489.2" x2="552.8" y2="489.2" stroke="#000" stroke-width="6" stroke-linecap="round"/>
<line x1="559.0" y1="489.2" x2="591.6" y2="489.2" stroke="#000" stroke-width="6" stroke-linecap="round"/>
<line x1="351.0" y1="172.0" x2="356.0" y2="180.0" stroke="#000" stroke-width="6" stroke-linecap="round"/>
<line x1="371.8" y1="204.3" x2="368.0" y2="209.0" stroke="#000" stroke-width="6" stroke-linecap="round"/>
<line x1="389.3" y1="231.5" x2="384.0" y2="236.0" stroke="#000" stroke-width="6" stroke-linecap="round"/>
<line x1="459.5" y1="350.0" x2="463.0" y2="358.0" stroke="#000" stroke-width="6" stroke-linecap="round"/>
<line x1="477.0" y1="377.0" x2="480.5" y2="385.0" stroke="#000" stroke-width="6" stroke-linecap="round"/>
<line x1="494.5" y1="409.0" x2="498.0" y2="417.0" stroke="#000" stroke-width="6" stroke-linecap="round"/>
<line x1="513.0" y1="440.0" x2="516.5" y2="448.0" stroke="#000" stroke-width="6" stroke-linecap="round"/>
<line x1="513.0" y1="440.0" x2="516.5" y2="448.0" stroke="#000" stroke-width="6" stroke-linecap="round"/>
<line x1="532.0" y1="470.0" x2="535.5" y2="478.0" stroke="#000" stroke-width="6" stroke-linecap="round"/>
<line x1="318.0" y1="145.0" x2="384.0" y2="145.0" stroke="#000" stroke-width="4" stroke-linecap="round"/>
<line x1="403.0" y1="125.0" x2="461.0" y2="220.0" stroke="#000" stroke-width="6" stroke-linecap="round"/>
<polyline points="389.0,139.0 384.5,143.0 436.0,226.0 447.0,207.0" fill="none" stroke="#000" stroke-width="4.5" stroke-linejoin="round" stroke-linecap="round"/>
<polyline points="412.4,231.7 421.0,246.0 445.5,246.0 455.0,229.0" fill="none" stroke="#000" stroke-width="5.5" stroke-linejoin="round" stroke-linecap="round"/>
<line x1="414.0" y1="230.0" x2="455.0" y2="230.0" stroke="#000" stroke-width="4" stroke-linecap="round"/>
<polyline points="474.0,218.0 559.0,359.0 563.0,367.0" fill="none" stroke="#000" stroke-width="14" stroke-linejoin="round" stroke-linecap="round"/>
<line x1="467.0" y1="233.0" x2="548.0" y2="362.0" stroke="#000" stroke-width="6" stroke-linecap="round"/>
<polyline points="461.0,227.0 447.0,243.6 532.0,384.0 543.0,364.0" fill="none" stroke="#000" stroke-width="4.5" stroke-linejoin="round" stroke-linecap="round"/>
<polyline points="508.3,383.9 517.7,400.2 540.3,400.2 552.8,366.0" fill="none" stroke="#000" stroke-width="5.5" stroke-linejoin="round" stroke-linecap="round"/>
<polyline points="378.0,277.0 384.0,274.0 443.0,275.0" fill="none" stroke="#000" stroke-width="12" stroke-linejoin="round" stroke-linecap="round"/>
<polyline points="443.0,275.0 470.0,319.0 476.0,343.0" fill="none" stroke="#000" stroke-width="12" stroke-linejoin="round" stroke-linecap="round"/>
<polyline points="467.0,319.6 416.7,319.6 410.0,322.0 386.6,362.8 362.6,400.0 339.0,446.0 331.5,466.2" fill="none" stroke="#000" stroke-width="5.5" stroke-linejoin="round" stroke-linecap="round"/>
<polyline points="379.0,376.0 353.6,400.0 344.0,428.0" fill="none" stroke="#000" stroke-width="4.5" stroke-linejoin="round" stroke-linecap="round"/>
<polyline points="417.0,325.4 439.0,325.4 443.0,330.7 463.0,330.7" fill="none" stroke="#000" stroke-width="8" stroke-linejoin="round" stroke-linecap="round"/>
<polyline points="437.0,335.0 521.5,470.4 516.0,490.0 508.0,497.9" fill="none" stroke="#000" stroke-width="13" stroke-linejoin="round" stroke-linecap="round"/>
<line x1="432.0" y1="337.0" x2="474.0" y2="337.0" stroke="#000" stroke-width="10" stroke-linecap="round"/>
<polyline points="417.0,326.0 381.2,400.0 358.0,446.0 333.7,494.0" fill="none" stroke="#000" stroke-width="7" stroke-linejoin="round" stroke-linecap="round"/>
<polyline points="338.0,500.0 314.5,530.0 404.0,676.0 566.0,676.0" fill="none" stroke="#000" stroke-width="13" stroke-linejoin="round" stroke-linecap="round"/>
<line x1="430.7" y1="343.3" x2="337.1" y2="529.0" stroke="#000" stroke-width="7" stroke-linecap="round"/>
<line x1="440.3" y1="358.0" x2="347.0" y2="543.0" stroke="#000" stroke-width="7" stroke-linecap="round"/>
<line x1="450.4" y1="373.4" x2="356.8" y2="559.0" stroke="#000" stroke-width="7" stroke-linecap="round"/>
<line x1="460.3" y1="388.6" x2="366.9" y2="574.0" stroke="#000" stroke-width="7" stroke-linecap="round"/>
<line x1="469.8" y1="403.1" x2="376.1" y2="589.0" stroke="#000" stroke-width="7" stroke-linecap="round"/>
<line x1="479.6" y1="418.1" x2="385.4" y2="605.0" stroke="#000" stroke-width="7" stroke-linecap="round"/>
<line x1="489.5" y1="433.3" x2="395.4" y2="620.0" stroke="#000" stroke-width="7" stroke-linecap="round"/>
<line x1="499.2" y1="448.1" x2="405.0" y2="635.0" stroke="#000" stroke-width="7" stroke-linecap="round"/>
<line x1="512.7" y1="468.7" x2="408.2" y2="676.0" stroke="#000" stroke-width="7" stroke-linecap="round"/>
<line x1="337.1" y1="529.0" x2="347.0" y2="543.0" stroke="#000" stroke-width="7" stroke-linecap="round"/>
<line x1="356.8" y1="559.0" x2="366.9" y2="574.0" stroke="#000" stroke-width="7" stroke-linecap="round"/>
<line x1="376.1" y1="589.0" x2="385.4" y2="605.0" stroke="#000" stroke-width="7" stroke-linecap="round"/>
<line x1="395.4" y1="620.0" x2="405.0" y2="635.0" stroke="#000" stroke-width="7" stroke-linecap="round"/>
<line x1="424.4" y1="330.0" x2="516.7" y2="474.8" stroke="#000" stroke-width="4" stroke-linecap="round"/>
<line x1="508.3" y1="497.9" x2="606.7" y2="497.9" stroke="#000" stroke-width="8" stroke-linecap="butt"/>
<line x1="541.5" y1="501.7" x2="500.0" y2="589.3" stroke="#000" stroke-width="6.5" stroke-linecap="round"/>
<line x1="565.5" y1="501.7" x2="520.5" y2="589.3" stroke="#000" stroke-width="6.5" stroke-linecap="round"/>
<polygon points="471.0,589.3 540.5,589.3 517.3,636.5 448.9,636.5" fill="none" stroke="#000" stroke-width="5" stroke-linejoin="miter" stroke-linecap="round"/>
<polygon points="460.0,639.3 504.4,639.3 498.8,651.3 454.4,651.3" fill="none" stroke="#000" stroke-width="4.5" stroke-linejoin="miter" stroke-linecap="round"/>
<line x1="465.5" y1="651.3" x2="457.2" y2="670.0" stroke="#000" stroke-width="4.5" stroke-linecap="round"/>
<line x1="486.8" y1="651.3" x2="477.5" y2="670.0" stroke="#000" stroke-width="4.5" stroke-linecap="round"/>
<polyline points="569.0,371.0 632.0,472.7 545.0,637.0 540.0,645.0 568.0,668.0 566.0,676.0" fill="none" stroke="#000" stroke-width="14" stroke-linejoin="round" stroke-linecap="round"/>
<line x1="561.0" y1="384.0" x2="620.0" y2="474.0" stroke="#000" stroke-width="6" stroke-linecap="round"/>
<polyline points="551.5,381.4 541.5,400.2 601.0,495.4 611.0,474.1" fill="none" stroke="#000" stroke-width="5" stroke-linejoin="round" stroke-linecap="round"/>
</svg>
</body></html>
